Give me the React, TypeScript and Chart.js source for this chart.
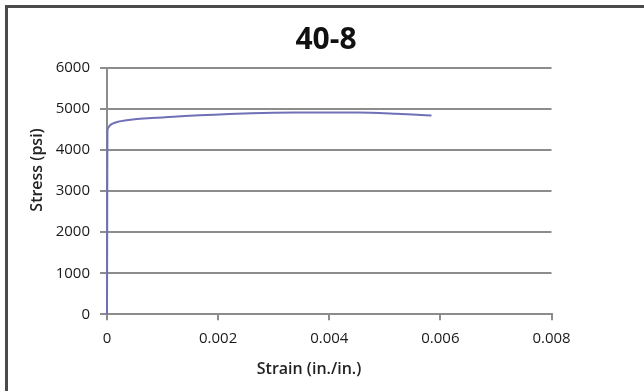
import React, { useEffect, useRef } from "react";
import { Chart, registerables } from "chart.js";

Chart.register(...registerables);

const chartTitle = "40-8";
const xAxisTitle = "Strain (in./in.)";
const yAxisTitle = "Stress (psi)";

const strain = [0, 0.000004, 0.000008, 0.00002, 0.00005, 0.0001, 0.0002, 0.00035, 0.0005, 0.0008, 0.0011, 0.0014, 0.0018, 0.0022, 0.0026, 0.003, 0.0035, 0.004, 0.0045, 0.0049, 0.0052, 0.0055, 0.00584];
const stress = [0, 2500, 4450, 4540, 4600, 4645, 4690, 4725, 4750, 4780, 4805, 4830, 4855, 4880, 4898, 4910, 4915, 4918, 4915, 4905, 4885, 4865, 4845];

const xTicks = [0, 0.002, 0.004, 0.006, 0.008];
const yTicks = [0, 1000, 2000, 3000, 4000, 5000, 6000];

const FONT = "'Open Sans', 'DejaVu Sans', sans-serif";

export default function App() {
  const ref = useRef<HTMLCanvasElement | null>(null);

  useEffect(() => {
    if (!ref.current) return;
    const titlesPlugin = {
      id: "customTitles",
      afterDraw(chart: any) {
        const ctx = chart.ctx;
        ctx.save();
        ctx.fillStyle = "#111";
        ctx.textAlign = "center";
        ctx.textBaseline = "alphabetic";
        ctx.font = `bold 30px ${FONT}`;
        ctx.fillText(chartTitle, 326, 49);
        ctx.font = `600 16px ${FONT}`;
        ctx.textBaseline = "middle";
        ctx.fillStyle = "#222";
        ctx.fillText(xAxisTitle, 309, 369);
        ctx.translate(37, 170);
        ctx.rotate(-Math.PI / 2);
        ctx.fillText(yAxisTitle, 0, 0);
        ctx.restore();
      },
    };

    const chart = new Chart(ref.current, {
      type: "line",
      data: {
        datasets: [
          {
            data: strain.map((x, i) => ({ x, y: stress[i] })),
            borderColor: "#7070b8",
            borderWidth: 2,
            pointRadius: 0,
            cubicInterpolationMode: "monotone",
            fill: false,
            clip: false as any,
          },
        ],
      },
      options: {
        animation: false,
        responsive: false,
        devicePixelRatio: 1,
        layout: { padding: { left: 0, top: 68, right: 92.5, bottom: 0 } },
        plugins: {
          legend: { display: false },
          title: { display: false },
          tooltip: { enabled: false },
        },
        scales: {
          x: {
            type: "linear",
            min: 0,
            max: 0.008,
            afterBuildTicks: (s: any) => {
              s.ticks = xTicks.map((v) => ({ value: v }));
            },
            afterFit: (s: any) => {
              s.height = 76.7;
            },
            ticks: {
              color: "#1a1a1a",
              font: { family: FONT, size: 15 },
              padding: 9,
              maxRotation: 0,
              callback: (v: any) => (Number(v) === 0 ? "0" : Number(v).toFixed(3)),
            },
            grid: {
              drawOnChartArea: false,
              drawTicks: true,
              tickLength: 6,
              color: "#8c8c8c",
              lineWidth: 2,
            },
            border: { display: true, color: "#8c8c8c", width: 2 },
          },
          y: {
            type: "linear",
            min: 0,
            max: 6000,
            afterBuildTicks: (s: any) => {
              s.ticks = yTicks.map((v) => ({ value: v }));
            },
            afterFit: (s: any) => {
              s.width = 107;
            },
            ticks: {
              color: "#1a1a1a",
              font: { family: FONT, size: 15 },
              padding: 10,
              callback: (v: any) => String(v),
            },
            grid: {
              drawOnChartArea: true,
              drawTicks: true,
              tickLength: 7,
              color: "#8c8c8c",
              lineWidth: 2,
            },
            border: { display: true, color: "#8c8c8c", width: 2 },
          },
        },
      },
      plugins: [titlesPlugin],
    } as any);
    return () => chart.destroy();
  }, []);

  return (
    <div
      style={{
        position: "fixed",
        left: 0,
        top: 0,
        width: 644,
        height: 391,
        background: "#fff",
        overflow: "hidden",
      }}
    >
      <div
        style={{
          position: "absolute",
          left: 5,
          top: 5,
          width: 700,
          height: 500,
          borderTop: "3px solid #4a4a4a",
          borderLeft: "3px solid #4a4a4a",
        }}
      />
      <canvas
        ref={ref}
        width={644}
        height={391}
        style={{ position: "absolute", left: 0, top: 0, width: 644, height: 391 }}
      />
    </div>
  );
}
